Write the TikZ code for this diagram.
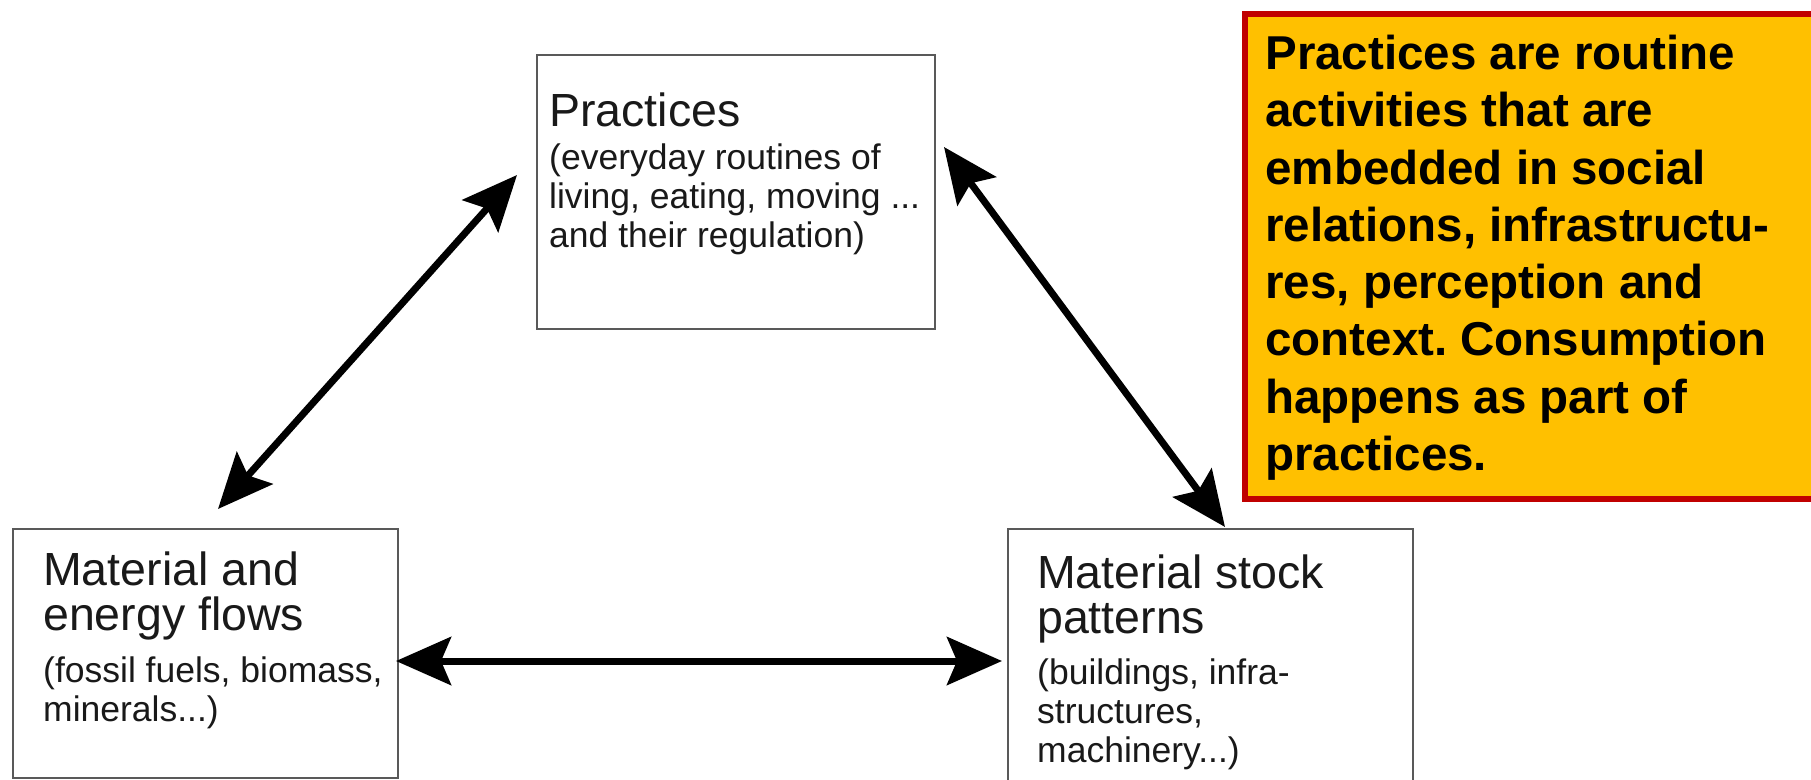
\documentclass[tikz,border=0pt]{standalone}
\usepackage{fontspec}
\setmainfont{Liberation Sans}
\usetikzlibrary{arrows.meta}
\definecolor{notefill}{HTML}{FFC000}
\definecolor{notered}{HTML}{C00000}
\newcommand\headfont{\fontsize{46.5}{45}\selectfont\spaceskip=0pt\relax}
\newcommand\subfont{\fontsize{35.5}{39}\selectfont\spaceskip=0pt\relax}
\newcommand\notefont{\bfseries\fontsize{47.5}{57.3}\selectfont\spaceskip=0pt\relax}
\frenchspacing

\begin{document}
\begin{tikzpicture}[x=1pt,y=-1pt,
    box/.style={draw=black!65,line width=2pt,inner sep=0pt,anchor=north west},
    boxtext/.style={inner sep=0pt,anchor=base west,text width=420pt,align=left,
        text=black!90},
    note/.style={draw=notered,fill=notefill,line width=5.5pt,anchor=north west,
        inner xsep=20.6pt,inner ysep=0pt,text width=560pt,align=left},
    >={Stealth[length=55pt,width=48pt,inset=10pt]},
    link/.style={<->,line width=7pt}]
\path[use as bounding box,fill=white] (0,0) rectangle (1811,779);

\node[box,minimum width=398pt,minimum height=274pt] (prac) at (536,54) {};
\node[box,minimum width=385pt,minimum height=249pt] (flows) at (12,528) {};
\node[box,minimum width=405pt,minimum height=280pt] (stock) at (1007,528) {};

\node[boxtext] (prac-t) at ([shift={(13,72)}]prac.north west)
    {\headfont Practices\\[4pt]
     \subfont (everyday routines of\\
     living, eating, moving ...\\
     and their regulation)\par};
\node[boxtext] (flows-t) at ([shift={(31,57)}]flows.north west)
    {\headfont Material and\\
     energy flows\\[13pt]
     \subfont (fossil fuels, biomass,\\
     minerals...)\par};
\node[boxtext] (stock-t) at ([shift={(30,60)}]stock.north west)
    {\headfont Material stock\\
     patterns\\[12pt]
     \subfont (buildings, infra-\\
     structures,\\
     machinery...)\par};

\node[note,text height=55.7pt,text depth=429.3pt] (def) at (1242,11)
    {\notefont Practices are routine\\
     activities that are\\
     embedded in social\\
     relations, infrastructu-\\
     res, perception and\\
     context. Consumption\\
     happens as part of\\
     practices.\par};

\draw[link] ([shift={(-19,121)}]prac.north west)
    -- ([shift={(206,-19)}]flows.north west);
\draw[link] ([shift={(8,93)}]prac.north east)
    -- ([shift={(218,-1)}]stock.north west);
\draw[link] ([shift={(-3,133)}]flows.north east)
    -- ([shift={(-5,133)}]stock.north west);
\end{tikzpicture}
\end{document}
